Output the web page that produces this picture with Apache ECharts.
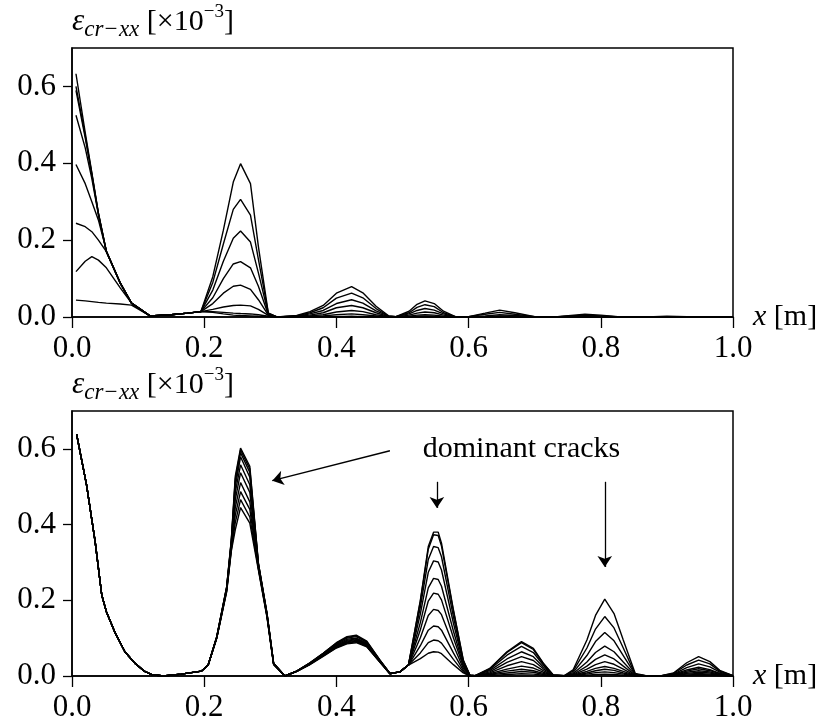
<!DOCTYPE html>
<html>
<head>
<meta charset="utf-8">
<script src="https://cdn.jsdelivr.net/npm/echarts@6/dist/echarts.min.js"></script>
<style>
  html, body { margin: 0; padding: 0; background: #fff; }
  #main { width: 823px; height: 725px; }
</style>
</head>
<body>
<div id="main"></div>
<script>
// ---- tick values ----
var xTicks = [0, 0.2, 0.4, 0.6, 0.8, 1.0];
var yTicks = [0, 0.2, 0.4, 0.6];

// ---- top panel: 8 load steps, piecewise segments (x nodes + y per step) ----
var topLeftX = [0.006, 0.02, 0.03, 0.04, 0.052, 0.073, 0.09, 0.118, 0.15, 0.175, 0.195];
var topLeftY = [
    [0.044, 0.042, 0.040, 0.038, 0.036, 0.034, 0.031, 0.003, 0.006, 0.010, 0.014],
    [0.118, 0.145, 0.157, 0.148, 0.128, 0.076, 0.036, 0.003, 0.006, 0.010, 0.014],
    [0.244, 0.235, 0.222, 0.200, 0.170, 0.088, 0.036, 0.003, 0.006, 0.010, 0.014],
    [0.397, 0.347, 0.300, 0.252, 0.172, 0.088, 0.036, 0.003, 0.006, 0.010, 0.014],
    [0.525, 0.440, 0.360, 0.266, 0.170, 0.088, 0.036, 0.003, 0.006, 0.010, 0.014],
    [0.590, 0.466, 0.370, 0.268, 0.170, 0.088, 0.036, 0.003, 0.006, 0.010, 0.014],
    [0.600, 0.472, 0.373, 0.269, 0.171, 0.089, 0.036, 0.003, 0.006, 0.010, 0.014],
    [0.633, 0.480, 0.376, 0.270, 0.171, 0.089, 0.036, 0.003, 0.006, 0.010, 0.014]
];
var topPeak25X = [0.213, 0.229, 0.244, 0.255, 0.27, 0.282, 0.297, 0.31];
var topPeak25Y = [
    [0.012, 0.008, 0.005, 0.004, 0.003, 0.002, 0.001, 0],
    [0.014, 0.012, 0.010, 0.009, 0.008, 0.006, 0.002, 0],
    [0.020, 0.026, 0.030, 0.031, 0.029, 0.020, 0.004, 0],
    [0.035, 0.062, 0.080, 0.083, 0.072, 0.045, 0.005, 0],
    [0.050, 0.100, 0.138, 0.144, 0.128, 0.080, 0.006, 0],
    [0.070, 0.145, 0.205, 0.224, 0.195, 0.115, 0.008, 0],
    [0.090, 0.190, 0.280, 0.306, 0.265, 0.150, 0.010, 0],
    [0.105, 0.226, 0.351, 0.399, 0.347, 0.183, 0.010, 0]
];
var topBump42X = [0.34, 0.36, 0.38, 0.40, 0.423, 0.44, 0.46, 0.479];
var topBump42Y = [
    [0, 0, 0, 0, 0, 0, 0, 0],
    [0, 0, 0.001, 0.001, 0.002, 0.001, 0.001, 0],
    [0, 0.001, 0.003, 0.006, 0.008, 0.006, 0.003, 0],
    [0.001, 0.003, 0.006, 0.013, 0.017, 0.014, 0.006, 0.001],
    [0.002, 0.005, 0.011, 0.024, 0.030, 0.024, 0.011, 0.001],
    [0.002, 0.008, 0.017, 0.035, 0.045, 0.036, 0.016, 0.002],
    [0.003, 0.011, 0.024, 0.049, 0.062, 0.050, 0.022, 0.002],
    [0.004, 0.014, 0.030, 0.062, 0.079, 0.063, 0.028, 0.003]
];
var topBump53X = [0.49, 0.51, 0.522, 0.534, 0.548, 0.562, 0.58];
var topBump53Y = [
    [0, 0, 0, 0, 0, 0, 0],
    [0, 0, 0, 0, 0, 0, 0],
    [0, 0.001, 0.002, 0.002, 0.002, 0.001, 0],
    [0, 0.002, 0.005, 0.006, 0.005, 0.002, 0],
    [0, 0.005, 0.010, 0.013, 0.011, 0.005, 0],
    [0.001, 0.008, 0.017, 0.022, 0.018, 0.008, 0],
    [0.001, 0.011, 0.025, 0.032, 0.027, 0.011, 0.001],
    [0.001, 0.015, 0.033, 0.042, 0.035, 0.015, 0.001]
];
var topBump65X = [0.6, 0.625, 0.647, 0.67, 0.7];
var topBump65Y = [
    [0, 0, 0, 0, 0],
    [0, 0, 0, 0, 0],
    [0, 0, 0, 0, 0],
    [0, 0, 0.001, 0, 0],
    [0, 0.001, 0.003, 0.002, 0],
    [0, 0.003, 0.006, 0.004, 0],
    [0.001, 0.007, 0.012, 0.007, 0.001],
    [0.001, 0.010, 0.018, 0.011, 0.001]
];
var topBump78X = [0.73, 0.755, 0.776, 0.8, 0.83];
var topBump78Y = [
    [0, 0, 0, 0, 0],
    [0, 0, 0, 0, 0],
    [0, 0, 0, 0, 0],
    [0, 0, 0, 0, 0],
    [0, 0, 0.001, 0, 0],
    [0, 0.002, 0.003, 0.002, 0],
    [0, 0.003, 0.005, 0.003, 0],
    [0, 0.004, 0.007, 0.005, 0]
];
var topBump90X = [0.87, 0.9, 0.93, 1.0];
var topBump90Y = [
    [0, 0, 0, 0],
    [0, 0, 0, 0],
    [0, 0, 0, 0],
    [0, 0, 0, 0],
    [0, 0, 0, 0],
    [0, 0.001, 0, 0],
    [0, 0.001, 0, 0],
    [0, 0.002, 0.001, 0]
];

// ---- bottom panel: 10 load steps ----
var bottomLeftX = [0.007, 0.022, 0.035, 0.045, 0.052, 0.065, 0.08, 0.095, 0.11, 0.12, 0.138, 0.165, 0.196, 0.206];
var bottomLeftY = [0.638, 0.505, 0.355, 0.214, 0.17, 0.115, 0.064, 0.034, 0.012, 0.004, 0.0, 0.005, 0.013, 0.029];
var bottomPeak25X = [0.219, 0.234, 0.241, 0.247, 0.255, 0.269, 0.282, 0.295, 0.305, 0.322];
var bottomPeak25Y = [
    [0.100, 0.222, 0.330, 0.386, 0.445, 0.404, 0.280, 0.155, 0.030, 0],
    [0.100, 0.224, 0.333, 0.405, 0.466, 0.420, 0.283, 0.157, 0.031, 0],
    [0.101, 0.226, 0.337, 0.425, 0.487, 0.440, 0.285, 0.158, 0.031, 0],
    [0.101, 0.228, 0.341, 0.445, 0.511, 0.460, 0.288, 0.160, 0.032, 0],
    [0.102, 0.230, 0.345, 0.465, 0.537, 0.485, 0.290, 0.161, 0.032, 0],
    [0.102, 0.231, 0.348, 0.485, 0.558, 0.505, 0.292, 0.162, 0.033, 0],
    [0.103, 0.233, 0.352, 0.500, 0.579, 0.525, 0.294, 0.163, 0.033, 0],
    [0.103, 0.234, 0.355, 0.512, 0.590, 0.538, 0.296, 0.164, 0.034, 0],
    [0.104, 0.235, 0.358, 0.520, 0.597, 0.547, 0.297, 0.165, 0.034, 0],
    [0.104, 0.236, 0.360, 0.527, 0.602, 0.554, 0.298, 0.166, 0.034, 0]
];
var bottomBump43X = [0.34, 0.36, 0.38, 0.40, 0.416, 0.43, 0.446, 0.466, 0.481, 0.496];
var bottomBump43Y = [
    [0.012, 0.030, 0.052, 0.074, 0.085, 0.088, 0.077, 0.036, 0.006, 0.011],
    [0.012, 0.031, 0.053, 0.075, 0.087, 0.090, 0.078, 0.036, 0.006, 0.011],
    [0.012, 0.031, 0.054, 0.076, 0.088, 0.092, 0.079, 0.037, 0.006, 0.011],
    [0.012, 0.032, 0.055, 0.078, 0.090, 0.094, 0.081, 0.038, 0.006, 0.011],
    [0.012, 0.032, 0.056, 0.079, 0.092, 0.096, 0.082, 0.038, 0.006, 0.011],
    [0.013, 0.033, 0.057, 0.081, 0.094, 0.098, 0.084, 0.039, 0.007, 0.011],
    [0.013, 0.034, 0.058, 0.083, 0.097, 0.100, 0.086, 0.040, 0.007, 0.011],
    [0.013, 0.034, 0.059, 0.085, 0.100, 0.104, 0.089, 0.041, 0.007, 0.011],
    [0.013, 0.035, 0.060, 0.087, 0.102, 0.106, 0.090, 0.041, 0.007, 0.011],
    [0.013, 0.035, 0.060, 0.088, 0.104, 0.108, 0.092, 0.042, 0.007, 0.011]
];
var bottomPeak55X = [0.509, 0.527, 0.539, 0.547, 0.554, 0.559, 0.577, 0.592, 0.602];
var bottomPeak55Y = [
    [0.029, 0.046, 0.060, 0.064, 0.063, 0.059, 0.030, 0.008, 0],
    [0.029, 0.061, 0.088, 0.095, 0.093, 0.087, 0.044, 0.011, 0],
    [0.029, 0.080, 0.121, 0.132, 0.130, 0.121, 0.061, 0.015, 0],
    [0.029, 0.101, 0.160, 0.176, 0.173, 0.162, 0.081, 0.020, 0.001],
    [0.029, 0.122, 0.198, 0.219, 0.216, 0.201, 0.101, 0.025, 0.001],
    [0.029, 0.141, 0.233, 0.258, 0.255, 0.237, 0.119, 0.029, 0.001],
    [0.029, 0.164, 0.274, 0.304, 0.301, 0.280, 0.140, 0.034, 0.002],
    [0.029, 0.182, 0.308, 0.342, 0.339, 0.315, 0.157, 0.038, 0.002],
    [0.029, 0.197, 0.335, 0.373, 0.371, 0.343, 0.172, 0.041, 0.002],
    [0.029, 0.200, 0.342, 0.380, 0.380, 0.351, 0.175, 0.042, 0.002]
];
var bottomBump68X = [0.61, 0.632, 0.658, 0.68, 0.698, 0.713, 0.728, 0.745];
var bottomBump68Y = [
    [0, 0.001, 0.004, 0.006, 0.005, 0.002, 0, 0],
    [0, 0.003, 0.008, 0.012, 0.010, 0.004, 0, 0],
    [0, 0.004, 0.013, 0.018, 0.014, 0.007, 0.001, 0],
    [0, 0.006, 0.018, 0.026, 0.021, 0.010, 0.001, 0],
    [0, 0.008, 0.027, 0.038, 0.030, 0.014, 0.001, 0],
    [0.001, 0.011, 0.036, 0.051, 0.041, 0.019, 0.002, 0],
    [0.001, 0.014, 0.045, 0.064, 0.051, 0.024, 0.002, 0.001],
    [0.001, 0.017, 0.055, 0.078, 0.062, 0.029, 0.002, 0.001],
    [0.001, 0.019, 0.062, 0.088, 0.070, 0.033, 0.003, 0.001],
    [0.001, 0.020, 0.064, 0.091, 0.073, 0.034, 0.003, 0.001]
];
var bottomPeak80X = [0.758, 0.779, 0.792, 0.806, 0.82, 0.834, 0.852, 0.87];
var bottomPeak80Y = [
    [0, 0.002, 0.004, 0.005, 0.004, 0.002, 0, 0],
    [0.001, 0.005, 0.009, 0.011, 0.009, 0.005, 0, 0],
    [0.001, 0.008, 0.014, 0.018, 0.015, 0.008, 0.001, 0],
    [0.002, 0.012, 0.020, 0.025, 0.020, 0.012, 0.001, 0],
    [0.003, 0.018, 0.030, 0.038, 0.031, 0.018, 0.001, 0],
    [0.004, 0.026, 0.044, 0.056, 0.045, 0.026, 0.002, 0],
    [0.006, 0.037, 0.062, 0.079, 0.064, 0.037, 0.003, 0],
    [0.009, 0.054, 0.091, 0.115, 0.093, 0.054, 0.004, 0],
    [0.013, 0.074, 0.124, 0.157, 0.127, 0.074, 0.005, 0],
    [0.016, 0.095, 0.160, 0.203, 0.165, 0.095, 0.007, 0]
];
var bottomBump94X = [0.89, 0.91, 0.93, 0.948, 0.965, 0.98, 1.0];
var bottomBump94Y = [
    [0, 0, 0.001, 0.002, 0.002, 0.001, 0],
    [0, 0.001, 0.003, 0.004, 0.003, 0.001, 0],
    [0, 0.001, 0.005, 0.007, 0.005, 0.002, 0],
    [0, 0.002, 0.007, 0.010, 0.008, 0.003, 0],
    [0, 0.002, 0.010, 0.014, 0.011, 0.004, 0],
    [0, 0.003, 0.013, 0.019, 0.014, 0.006, 0],
    [0, 0.004, 0.016, 0.023, 0.017, 0.007, 0],
    [0, 0.005, 0.022, 0.032, 0.024, 0.010, 0.001],
    [0, 0.007, 0.029, 0.042, 0.032, 0.013, 0.001],
    [0, 0.008, 0.035, 0.051, 0.038, 0.015, 0.001]
];

// ---- annotation (bottom panel, data coords) ----
var annotText = 'dominant cracks';
var annotPos = [0.68, 0.598];
var arrows = [
    [[0.481, 0.595], [0.303, 0.516]],
    [[0.552, 0.513], [0.552, 0.444]],
    [[0.806, 0.513], [0.806, 0.288]]
];

var serif = '"Liberation Serif", "Times New Roman", serif';

function joinSegments(segs, i) {
    var pts = [];
    segs.forEach(function (s) {
        var ys = Array.isArray(s[1][0]) ? s[1][i] : s[1];
        s[0].forEach(function (x, j) { pts.push([x, ys[j]]); });
    });
    return pts;
}

var topSegs = [[topLeftX, topLeftY], [topPeak25X, topPeak25Y], [topBump42X, topBump42Y],
    [topBump53X, topBump53Y], [topBump65X, topBump65Y], [topBump78X, topBump78Y], [topBump90X, topBump90Y]];
var bottomSegs = [[bottomLeftX, bottomLeftY], [bottomPeak25X, bottomPeak25Y], [bottomBump43X, bottomBump43Y],
    [bottomPeak55X, bottomPeak55Y], [bottomBump68X, bottomBump68Y], [bottomPeak80X, bottomPeak80Y],
    [bottomBump94X, bottomBump94Y]];

function lineSeries(data, idx) {
    return {
        type: 'line', xAxisIndex: idx, yAxisIndex: idx, data: data,
        showSymbol: false, symbol: 'none', silent: true,
        lineStyle: { color: '#000', width: 1.4 }
    };
}

var series = [];
topLeftY.forEach(function (_, i) { series.push(lineSeries(joinSegments(topSegs, i), 0)); });
bottomPeak25Y.forEach(function (_, i) { series.push(lineSeries(joinSegments(bottomSegs, i), 1)); });

// separate series carrying the arrows and the label
series.push({
    type: 'line', xAxisIndex: 1, yAxisIndex: 1, data: [], silent: true,
    markLine: {
        silent: true, symbol: ['none', 'arrow'], symbolSize: 11, precision: 3,
        label: { show: false },
        lineStyle: { color: '#000', width: 1.3, type: 'solid' },
        itemStyle: { color: '#000' },
        emphasis: { disabled: true },
        data: arrows.map(function (a) { return [{ coord: a[0] }, { coord: a[1] }]; })
    },
    markPoint: {
        silent: true, symbol: 'circle', symbolSize: 0,
        label: { show: true, position: 'inside', formatter: annotText, color: '#000', fontFamily: serif, fontSize: 30 },
        data: [{ coord: annotPos }]
    }
});

function xAxis(idx) {
    return {
        type: 'value', gridIndex: idx, min: 0, max: 1,
        name: '{i|x} [m]', nameLocation: 'end', nameGap: 20,
        nameTextStyle: { fontFamily: serif, fontSize: 30, color: '#000',
            rich: { i: { fontFamily: serif, fontSize: 30, fontStyle: 'italic', color: '#000' } } },
        axisLine: { onZero: false, lineStyle: { color: '#000', width: 1.5 } },
        axisTick: { inside: false, length: 11, customValues: xTicks, lineStyle: { color: '#000', width: 1.3 } },
        axisLabel: { customValues: xTicks, formatter: function (v) { return v.toFixed(1); },
            fontFamily: serif, fontSize: 31, color: '#000', margin: 16 },
        splitLine: { show: false }
    };
}
function yAxis(idx) {
    return {
        type: 'value', gridIndex: idx, min: 0, max: 0.7,
        name: '{e|ε}{s|cr−xx}{n| [×10}{p|−3}{n|]}', nameLocation: 'end', nameGap: 7,
        nameTextStyle: { align: 'left', verticalAlign: 'bottom', fontFamily: serif, color: '#000',
            rich: {
                e: { fontFamily: serif, fontSize: 31, fontStyle: 'italic', lineHeight: 38, verticalAlign: 'middle', color: '#000' },
                s: { fontFamily: serif, fontSize: 23, fontStyle: 'italic', lineHeight: 24, verticalAlign: 'bottom', color: '#000' },
                n: { fontFamily: serif, fontSize: 30, lineHeight: 38, verticalAlign: 'middle', color: '#000' },
                p: { fontFamily: serif, fontSize: 19, lineHeight: 28, verticalAlign: 'top', color: '#000' }
            } },
        axisLine: { onZero: false, lineStyle: { color: '#000', width: 1.5 } },
        axisTick: { inside: false, length: 9, customValues: yTicks, lineStyle: { color: '#000', width: 1.3 } },
        axisLabel: { customValues: yTicks, formatter: function (v) { return v.toFixed(1); },
            fontFamily: serif, fontSize: 31, color: '#000', margin: 16 },
        splitLine: { show: false }
    };
}

var chart = echarts.init(document.getElementById('main'), null, { renderer: 'canvas' });
chart.setOption({
    animation: false,
    backgroundColor: '#fff',
    grid: [
        { left: 72, right: 90, top: 48, height: 269, show: true, borderColor: '#000', borderWidth: 1.5, containLabel: false },
        { left: 72, right: 90, top: 411, height: 265, show: true, borderColor: '#000', borderWidth: 1.5, containLabel: false }
    ],
    xAxis: [xAxis(0), xAxis(1)],
    yAxis: [yAxis(0), yAxis(1)],
    series: series
});
</script>
</body>
</html>
